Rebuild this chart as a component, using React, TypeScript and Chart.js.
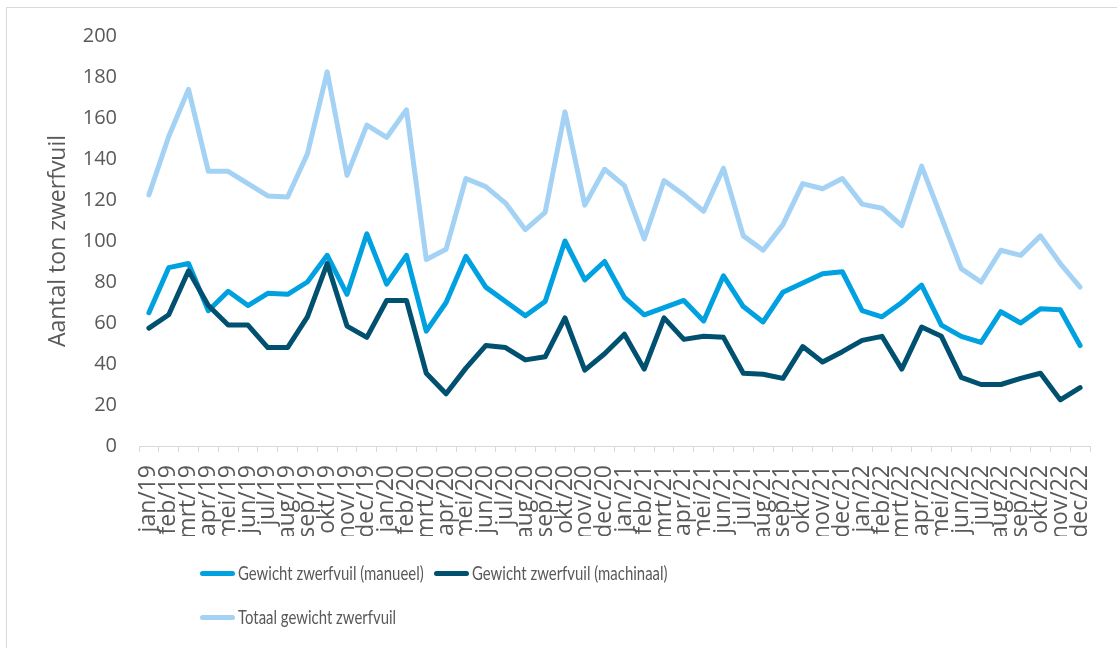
import React, { useEffect, useRef } from "react";
import { Chart, registerables } from "chart.js";

Chart.register(...registerables);

const categories = [
  "jan/19", "feb/19", "mrt/19", "apr/19", "mei/19", "jun/19", "jul/19", "aug/19", "sep/19", "okt/19", "nov/19", "dec/19",
  "jan/20", "feb/20", "mrt/20", "apr/20", "mei/20", "jun/20", "jul/20", "aug/20", "sep/20", "okt/20", "nov/20", "dec/20",
  "jan/21", "feb/21", "mrt/21", "apr/21", "mei/21", "jun/21", "jul/21", "aug/21", "sep/21", "okt/21", "nov/21", "dec/21",
  "jan/22", "feb/22", "mrt/22", "apr/22", "mei/22", "jun/22", "jul/22", "aug/22", "sep/22", "okt/22", "nov/22", "dec/22",
];

const manueel = [
  65, 87, 89, 66, 75.5, 68.5, 74.5, 74, 80, 93, 74, 103.5,
  79, 93, 56, 70, 92.5, 77.5, 70.5, 63.5, 70.5, 100, 81, 90,
  72.5, 64, 67.5, 71, 61, 83, 68, 60.5, 75, 79.5, 84, 85,
  66, 63, 70, 78.5, 59, 53.5, 50.5, 65.5, 60, 67, 66.5, 49,
];

const machinaal = [
  57.5, 64, 85.5, 68.5, 59, 59, 48, 48, 63, 89, 58.5, 53,
  71, 71, 35.5, 25.5, 38, 49, 48, 42, 43.5, 62.5, 37, 45,
  54.5, 37.5, 62.5, 52, 53.5, 53, 35.5, 35, 33, 48.5, 41, 46,
  51.5, 53.5, 37.5, 58, 53.5, 33.5, 30, 30, 33, 35.5, 22.5, 28.5,
];

const totaal = [
  122.5, 151, 174, 134, 134, 128, 122, 121.5, 142.5, 182.5, 132, 156.5,
  150.5, 164, 91, 96, 130.5, 126.5, 118.5, 105.5, 114, 163, 117.5, 135,
  127, 101, 129.5, 122.5, 114.5, 135.5, 102.5, 95.5, 108, 128, 125.5, 130.5,
  118, 116, 107.5, 136.5, 111.5, 86.5, 80, 95.5, 93, 102.5, 89, 77.5,
];

const seriesNames = [
  "Gewicht zwerfvuil (manueel)",
  "Gewicht zwerfvuil (machinaal)",
  "Totaal gewicht zwerfvuil",
];
const seriesColors = ["#00A1E1", "#00506F", "#A4D2F4"];
const yTitle = "Aantal ton zwerfvuil";

const TEXT = "#595959";

export default function App() {
  const ref = useRef<HTMLCanvasElement | null>(null);

  useEffect(() => {
    if (!ref.current) return;
    const mk = (i: number, data: number[], order: number) => ({
      label: seriesNames[i],
      data,
      borderColor: seriesColors[i],
      backgroundColor: seriesColors[i],
      borderWidth: 5,
      borderJoinStyle: "round" as const,
      borderCapStyle: "round" as const,
      pointRadius: 0,
      pointHoverRadius: 0,
      tension: 0,
      fill: false,
      order,
    });
    const chart = new Chart(ref.current, {
      type: "line",
      data: {
        labels: categories,
        datasets: [mk(0, manueel, 2), mk(1, machinaal, 1), mk(2, totaal, 0)],
      },
      options: {
        animation: false,
        responsive: false,
        maintainAspectRatio: false,
        layout: { padding: { top: 36, left: 43, right: 27, bottom: 112 } },
        plugins: {
          legend: { display: false },
          tooltip: { enabled: false },
        },
        scales: {
          x: {
            offset: true,
            grid: {
              offset: true,
              drawOnChartArea: false,
              drawTicks: true,
              tickLength: 6,
              color: "#D9D9D9",
              lineWidth: 1,
            },
            border: { display: true, color: "#D9D9D9", width: 1 },
            ticks: {
              autoSkip: false,
              maxRotation: 90,
              minRotation: 90,
              padding: 13,
              color: TEXT,
              font: { family: "'Open Sans'", size: 23 },
            },
            afterFit: (s: any) => {
              s.height = 90;
              s.paddingLeft = 0;
              s.paddingRight = 0;
            },
          },
          y: {
            min: 0,
            max: 200,
            grid: { display: false, drawTicks: false },
            border: { display: false },
            ticks: {
              stepSize: 20,
              padding: 22,
              color: TEXT,
              font: { family: "'Open Sans'", size: 20 },
            },
            title: {
              display: true,
              text: yTitle,
              color: TEXT,
              font: { family: "'Open Sans'", size: 23 },
              padding: { top: 2, bottom: 4 },
            },
            afterFit: (s: any) => {
              s.width = 96;
              s.paddingTop = 0;
              s.paddingBottom = 0;
            },
          },
        },
      },
    });
    return () => chart.destroy();
  }, []);

  const legendItem: React.CSSProperties = {
    position: "absolute",
    color: TEXT,
    whiteSpace: "nowrap",
    display: "flex",
    alignItems: "center",
    height: 24,
  };
  const legendText: React.CSSProperties = {
    display: "inline-block",
    fontFamily: "'Lato', sans-serif",
    fontSize: 19.5,
    lineHeight: "24px",
    transform: "scaleX(0.765)",
    transformOrigin: "0 50%",
  };
  const swatch = (c: string): React.CSSProperties => ({
    display: "inline-block",
    width: 35,
    height: 5,
    borderRadius: 3,
    background: c,
    marginRight: 3,
  });

  return (
    <div
      style={{
        position: "fixed",
        left: 0,
        top: 0,
        width: 1117,
        height: 648,
        overflow: "hidden",
        background: "#fff",
      }}
    >
      <div
        style={{
          position: "absolute",
          left: 6,
          top: 7,
          width: 1200,
          height: 700,
          border: "1px solid #D9D9D9",
        }}
      />
      <canvas
        ref={ref}
        width={1117}
        height={648}
        style={{ position: "absolute", left: 0, top: 0, width: 1117, height: 648 }}
      />
      <div style={{ ...legendItem, left: 200, top: 561 }}>
        <span style={swatch(seriesColors[0])} />
        <span style={legendText}>{seriesNames[0]}</span>
      </div>
      <div style={{ ...legendItem, left: 434, top: 561 }}>
        <span style={swatch(seriesColors[1])} />
        <span style={legendText}>{seriesNames[1]}</span>
      </div>
      <div style={{ ...legendItem, left: 200, top: 605 }}>
        <span style={swatch(seriesColors[2])} />
        <span style={legendText}>{seriesNames[2]}</span>
      </div>
    </div>
  );
}
